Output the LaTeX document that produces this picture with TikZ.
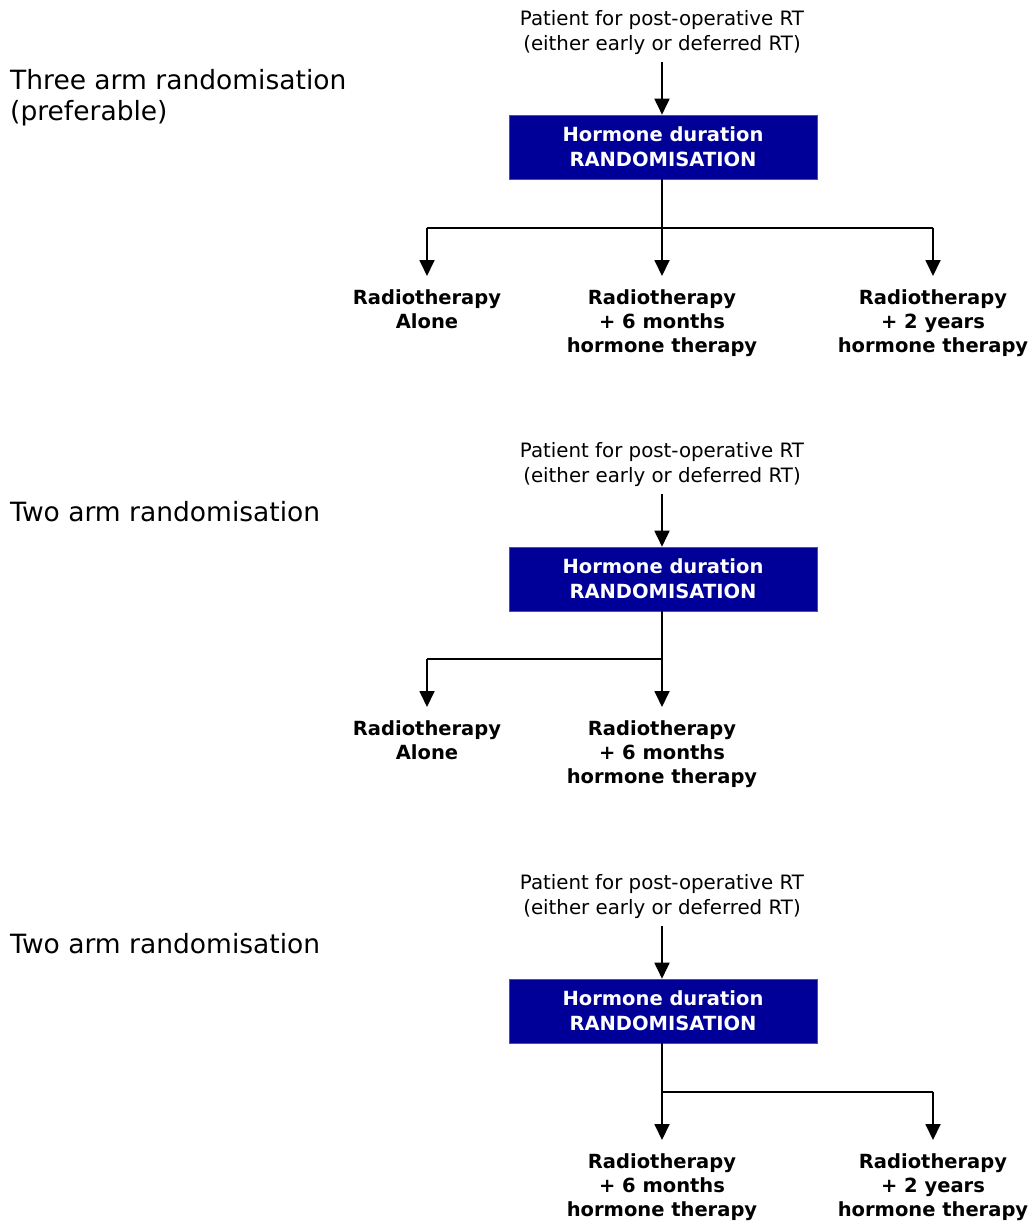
\documentclass[tikz,border=0pt]{standalone}
\usepackage{fontspec}
\setmainfont{DejaVu Sans}
\usetikzlibrary{arrows.meta}
\definecolor{boxblue}{RGB}{0,0,153}
\begin{document}
\begin{tikzpicture}[x=1pt,y=-1pt,
  conn/.style={line width=1.8pt},
  arr/.style={line width=1.8pt,-{Triangle[width=15pt,length=16pt]}},
  title/.style={anchor=north west,align=left,inner sep=0pt,font=\fontsize{26.5}{31}\selectfont},
  patient/.style={align=center,inner sep=0pt,font=\fontsize{19.8}{25}\selectfont},
  randbox/.style={fill=boxblue,draw=boxblue!70!white,line width=0.6pt,minimum width=308pt,minimum height=64pt,align=center,text=white,font=\fontsize{19.5}{25}\bfseries\selectfont},
  arm/.style={anchor=north,align=center,inner sep=0pt,font=\fontsize{19.5}{24}\bfseries\selectfont}]
\useasboundingbox (0,0) rectangle (1036,1221);

% ---------- Panel 1 ----------
\node[title] (t1) at (10,69) {Three arm randomisation\\(preferable)};
\node[patient] (p1) at (662,33) {Patient for post-operative RT\\(either early or deferred RT)};
\node[randbox] (b1) at (663,147) {Hormone duration\\RANDOMISATION};
\coordinate (p1s) at (662,62);
\draw[arr] (p1s) -- (b1.north -| p1s);
\coordinate (j1) at (662,228);
\coordinate (l1) at (427,228);
\coordinate (r1) at (933,228);
\node[arm] (a1) at (427,289) {Radiotherapy\\Alone};
\node[arm] (m1) at (662,289) {Radiotherapy\\+ 6 months\\hormone therapy};
\node[arm] (c1) at (933,289) {Radiotherapy\\+ 2 years\\hormone therapy};
\draw[conn] (b1.south -| j1) -- (j1);
\draw[conn] (l1) -- (r1);
\draw[arr] (l1) -- ++(0,48);
\draw[arr] (j1) -- ++(0,48);
\draw[arr] (r1) -- ++(0,48);

% ---------- Panel 2 ----------
\node[title] (t2) at (10,501) {Two arm randomisation};
\node[patient] (p2) at (662,465) {Patient for post-operative RT\\(either early or deferred RT)};
\node[randbox] (b2) at (663,579) {Hormone duration\\RANDOMISATION};
\coordinate (p2s) at (662,494);
\draw[arr] (p2s) -- (b2.north -| p2s);
\coordinate (j2) at (662,659);
\coordinate (l2) at (427,659);
\node[arm] (a2) at (427,720) {Radiotherapy\\Alone};
\node[arm] (m2) at (662,720) {Radiotherapy\\+ 6 months\\hormone therapy};
\draw[conn] (b2.south -| j2) -- (j2);
\draw[conn] (l2) -- (j2);
\draw[arr] (l2) -- ++(0,48);
\draw[arr] (j2) -- ++(0,48);

% ---------- Panel 3 ----------
\node[title] (t3) at (10,933) {Two arm randomisation};
\node[patient] (p3) at (662,897) {Patient for post-operative RT\\(either early or deferred RT)};
\node[randbox] (b3) at (663,1011) {Hormone duration\\RANDOMISATION};
\coordinate (p3s) at (662,926);
\draw[arr] (p3s) -- (b3.north -| p3s);
\coordinate (j3) at (662,1092);
\coordinate (r3) at (933,1092);
\coordinate (e3) at (662,1140);
\node[arm] (m3) at (662,1153) {Radiotherapy\\+ 6 months\\hormone therapy};
\node[arm] (c3) at (933,1153) {Radiotherapy\\+ 2 years\\hormone therapy};
\draw[arr] (b3.south -| j3) -- (e3);
\draw[conn] (j3) -- (r3);
\draw[arr] (r3) -- ++(0,48);
\end{tikzpicture}
\end{document}
